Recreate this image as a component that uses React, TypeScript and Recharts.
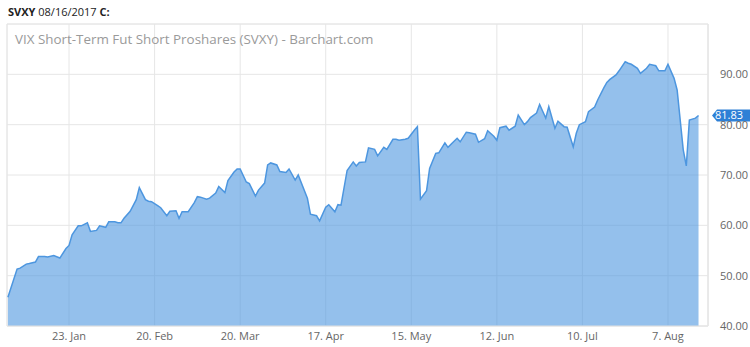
import React from "react";
import { AreaChart, Area, XAxis, YAxis, CartesianGrid, ReferenceLine, ReferenceArea } from "recharts";

// day of year (2017) and closing price of SVXY
const days = [
  3, 6, 7, 9, 10, 12, 13, 15, 16, 18,
  20, 22, 23, 24, 26, 27, 29, 30, 32, 33,
  35, 36, 38, 39, 40, 41, 43, 45, 46, 48,
  49, 50, 52, 53, 55, 56, 58, 59, 60, 62,
  64, 65, 66, 68, 69, 71, 72, 74, 75, 77,
  78, 79, 81, 82, 84, 85, 87, 88, 89, 91,
  92, 94, 95, 97, 98, 101, 102, 104, 105, 107,
  108, 110, 111, 112, 114, 116, 117, 118, 120, 121,
  123, 124, 126, 127, 129, 130, 131, 133, 134, 136,
  137, 138, 140, 141, 143, 144, 146, 147, 149, 150,
  151, 153, 154, 156, 157, 159, 160, 162, 163, 164,
  166, 167, 169, 170, 172, 173, 174, 176, 177, 179,
  180, 182, 183, 185, 186, 188, 189, 190, 192, 193,
  195, 196, 198, 199, 200, 202, 203, 205, 206, 207,
  209, 210, 212, 213, 215, 216, 218, 219, 221, 222,
  224, 225, 226, 228, 229,
];

const closes = [
  45.7, 51.3, 51.5, 52.3, 52.4, 52.7, 53.8, 53.8, 53.7, 54.0,
  53.5, 55.4, 56.0, 58.1, 59.9, 59.9, 60.5, 58.8, 59.0, 59.9,
  59.6, 60.7, 60.7, 60.5, 60.5, 61.4, 62.8, 65.1, 67.5, 65.1,
  64.8, 64.7, 63.9, 63.5, 61.9, 62.8, 62.9, 61.4, 62.7, 62.7,
  64.5, 65.7, 65.6, 65.2, 65.4, 66.4, 67.7, 66.5, 68.9, 70.6,
  71.2, 71.2, 68.6, 68.3, 65.8, 67.0, 68.4, 72.0, 72.4, 72.0,
  70.7, 70.5, 71.2, 69.0, 70.0, 65.4, 62.2, 61.9, 60.9, 63.6,
  64.1, 62.7, 64.1, 64.0, 70.9, 72.6, 71.8, 72.5, 72.6, 75.4,
  75.1, 73.8, 75.5, 75.1, 77.1, 77.1, 76.9, 77.1, 77.3, 78.9,
  79.6, 65.2, 66.9, 71.3, 74.3, 74.4, 76.4, 75.5, 76.7, 77.3,
  76.6, 78.5, 78.4, 78.1, 76.5, 77.2, 78.8, 77.7, 76.9, 79.4,
  79.7, 78.9, 79.7, 81.9, 80.0, 80.6, 81.4, 82.3, 84.0, 81.3,
  83.6, 79.3, 80.7, 79.6, 79.5, 75.6, 78.3, 80.0, 80.6, 82.6,
  83.5, 84.9, 87.3, 88.4, 89.0, 89.9, 90.7, 92.5, 92.2, 92.0,
  91.2, 90.2, 91.2, 92.0, 91.7, 90.7, 90.7, 92.0, 89.2, 86.9,
  75.0, 71.8, 80.9, 81.3, 81.83,
];

const tickDays = [23, 51, 79, 107, 135, 163, 191, 219];
const tickLabels = ["23. Jan", "20. Feb", "20. Mar", "17. Apr", "15. May", "12. Jun", "10. Jul", "7. Aug"];
const priceTicks = [40, 50, 60, 70, 80, 90, 100];
const lastClose = 81.83;

const data = days.map((d, i) => ({ day: d, close: closes[i] }));

const X_DOMAIN: [number, number] = [2.7, 232.1];
const FONT = "'Open Sans', sans-serif";
const GRID = "#e6e6e6";
const BLUE = "#4d96df";

function LastTag(props: any) {
  const { x, y, width } = props.viewBox;
  const tip = x + width + 4;
  const h = 6;
  return (
    <g>
      <path d={`M${tip},${y} L${tip + 5},${y - h} L750,${y - h} L750,${y + h} L${tip + 5},${y + h} Z`} fill="#2e80d6" />
      <text x={tip + 3} y={y} dy="0.36em" fill="#fff" fontSize={11} fontFamily={FONT}>
        {lastClose.toFixed(2)}
      </text>
    </g>
  );
}

export default function App() {
  return (
    <div style={{ position: "relative", width: 750, height: 347, fontFamily: FONT }}>
      <style>{"body{margin:0}"}</style>
      <div style={{ position: "absolute", left: 8, top: 4, fontSize: 11, color: "#222" }}>
        <b>SVXY</b> 08/16/2017 <b>C:</b>
      </div>
      <AreaChart width={750} height={347} data={data} margin={{ top: 24, right: 0, left: 7, bottom: 0 }}>
        <CartesianGrid stroke={GRID} />
        <ReferenceArea x1={X_DOMAIN[0]} x2={X_DOMAIN[1]} y1={40} y2={100} fill="none" stroke={GRID} />
        <XAxis
          dataKey="day"
          type="number"
          domain={X_DOMAIN}
          ticks={tickDays}
          tickFormatter={(v) => tickLabels[tickDays.indexOf(v)]}
          height={21}
          axisLine={{ stroke: GRID }}
          tickLine={false}
          tickSize={4}
          tickMargin={2}
          tick={{ fontSize: 11, fill: "#666", fontFamily: FONT }}
        />
        <YAxis
          orientation="right"
          domain={[40, 100]}
          ticks={priceTicks}
          tickFormatter={(v) => (v === 100 ? "" : v.toFixed(2))}
          width={42}
          axisLine={{ stroke: GRID }}
          tickLine={false}
          tickMargin={6}
          tick={{ fontSize: 11, fill: "#666", fontFamily: FONT }}
        />
        <Area
          type="linear"
          dataKey="close"
          stroke={BLUE}
          strokeWidth={1.5}
          fill={BLUE}
          fillOpacity={0.6}
          dot={false}
          activeDot={false}
          isAnimationActive={false}
        />
        <ReferenceLine y={lastClose} stroke="none" label={(p: any) => <LastTag {...p} />} />
      </AreaChart>
      <div style={{ position: "absolute", left: 15, top: 30, fontSize: 13.4, color: "#9a9a9a", pointerEvents: "none" }}>
        VIX Short-Term Fut Short Proshares (SVXY) - Barchart.com
      </div>
    </div>
  );
}
